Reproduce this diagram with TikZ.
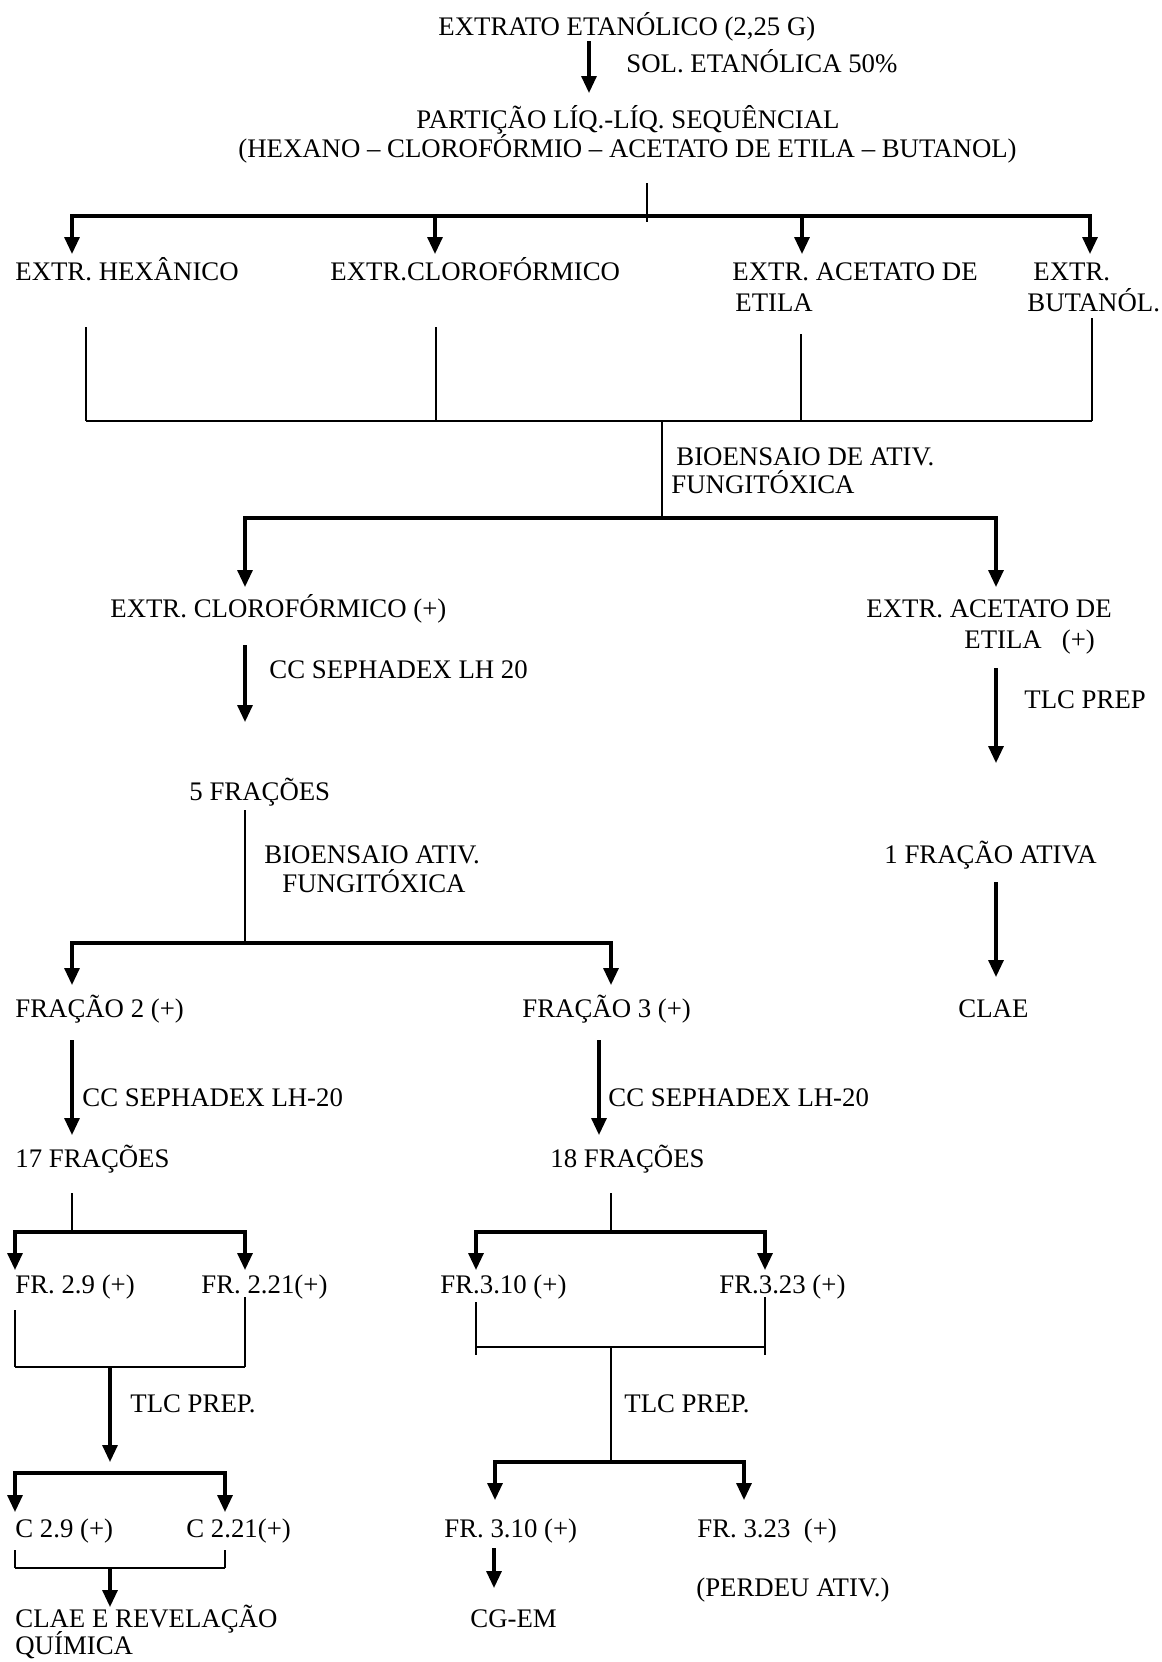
\documentclass[tikz,border=0pt]{standalone}
\usepackage{fontspec}
\setmainfont{Liberation Serif}
\usetikzlibrary{arrows.meta}

\begin{document}
\begin{tikzpicture}[x=0.5pt,y=-0.5pt,
    rot/.style={anchor=base west,inner sep=0pt,font=\fontsize{13.4}{16}\selectfont},
    seta/.style={line width=1.6pt,-{Triangle[length=8.5pt,width=7.5pt]}},
    seta2/.style={line width=1.6pt,{Triangle[length=8.5pt,width=7.5pt]}-{Triangle[length=8.5pt,width=7.5pt]}},
    barra/.style={line width=1.4pt},
    fio/.style={line width=0.6pt}]
\useasboundingbox (0,0) rectangle (1162,1662);

% textos
\node[rot] (extrato) at (438,35) {EXTRATO ETANÓLICO (2,25 G)};
\node[rot] (sol) at (626,72) {SOL. ETANÓLICA 50\%};
\node[rot] (particao) at (416,128) {PARTIÇÃO LÍQ.-LÍQ. SEQUÊNCIAL};
\node[rot] (solventes) at (238,157) {(HEXANO – CLOROFÓRMIO – ACETATO DE ETILA – BUTANOL)};
\node[rot] (hex) at (15,280) {EXTR. HEXÂNICO};
\node[rot] (clo) at (330,280) {EXTR.CLOROFÓRMICO};
\node[rot] (ace) at (732,280) {EXTR. ACETATO DE};
\node[rot] (aceb) at (735,311) {ETILA};
\node[rot] (but) at (1033,280) {EXTR.};
\node[rot] (butb) at (1027,311) {BUTANÓL.};
\node[rot] (bio) at (676,465) {BIOENSAIO DE ATIV.};
\node[rot] (biob) at (671,493) {FUNGITÓXICA};
\node[rot] (cloP) at (110,617) {EXTR. CLOROFÓRMICO (+)};
\node[rot] (aceP) at (866,617) {EXTR. ACETATO DE};
\node[rot] (acePb) at (964,648) {ETILA\ \ \ (+)};
\node[rot] (sep1) at (269,678) {CC SEPHADEX LH 20};
\node[rot] (tlc1) at (1024,708) {TLC PREP};
\node[rot] (cinco) at (189,800) {5 FRAÇÕES};
\node[rot] (bio2) at (264,863) {BIOENSAIO ATIV.};
\node[rot] (bio2b) at (282,892) {FUNGITÓXICA};
\node[rot] (ativa) at (884,863) {1 FRAÇÃO ATIVA};
\node[rot] (fr2) at (15,1017) {FRAÇÃO 2 (+)};
\node[rot] (fr3) at (522,1017) {FRAÇÃO 3 (+)};
\node[rot] (clae1) at (958,1017) {CLAE};
\node[rot] (sep2) at (82,1106) {CC SEPHADEX LH-20};
\node[rot] (sep3) at (608,1106) {CC SEPHADEX LH-20};
\node[rot] (dezessete) at (15,1167) {17 FRAÇÕES};
\node[rot] (dezoito) at (550,1167) {18 FRAÇÕES};
\node[rot] (f29) at (15,1293) {FR. 2.9 (+)};
\node[rot] (f221) at (201,1293) {FR. 2.21(+)};
\node[rot] (f310) at (440,1293) {FR.3.10 (+)};
\node[rot] (f323) at (719,1293) {FR.3.23 (+)};
\node[rot] (tlc2) at (130,1412) {TLC PREP.};
\node[rot] (tlc3) at (624,1412) {TLC PREP.};
\node[rot] (c29) at (15,1537) {C 2.9 (+)};
\node[rot] (c221) at (186,1537) {C 2.21(+)};
\node[rot] (g310) at (444,1537) {FR. 3.10 (+)};
\node[rot] (g323) at (697,1537) {FR. 3.23\ \ (+)};
\node[rot] (perdeu) at (696,1596) {(PERDEU ATIV.)};
\node[rot] (clae2) at (15,1627) {CLAE E REVELAÇÃO};
\node[rot] (clae2b) at (15,1654) {QUÍMICA};
\node[rot] (cgem) at (470,1627) {CG-EM};

% particao
\coordinate (p0) at (589,41);
\coordinate (p1) at (589,93);
\draw[seta] (p0) -- (p1);
\coordinate (q0) at (647,183);
\coordinate (q1) at (647,222);
\draw[fio] (q0) -- (q1);
\coordinate (h1) at (72,216);
\coordinate (h2) at (435,216);
\coordinate (h3) at (802,216);
\coordinate (h4) at (1090,216);
\draw[seta2] (h1 |- 0,254) -- (h1) -- (h4) -- (h4 |- 0,254);
\draw[seta] (h2) -- (h2 |- 0,254);
\draw[seta] (h3) -- (h3 |- 0,254);

% bioensaio 1
\coordinate (j1) at (86,421);
\coordinate (j2) at (436,421);
\coordinate (j3) at (801,421);
\coordinate (j4) at (1092,421);
\coordinate (j5) at (662,421);
\draw[fio] (j1 |- 0,327) -- (j1);
\draw[fio] (j2 |- 0,327) -- (j2);
\draw[fio] (j3 |- 0,334) -- (j3);
\draw[fio] (j4 |- 0,318) -- (j4);
\draw[barra] (j1) -- (j4);
\draw[fio] (j5) -- (j5 |- 0,518);
\coordinate (k1) at (245,518);
\coordinate (k2) at (996,518);
\draw[seta2] (k1 |- 0,587) -- (k1) -- (k2) -- (k2 |- 0,587);

% coluna direita
\draw[seta] (996,668) coordinate (r0) -- (996,763) coordinate (r1);
\draw[seta] (996,882) coordinate (r2) -- (996,977) coordinate (r3);

% cloroformico
\draw[seta] (245,645) coordinate (c0) -- (245,722) coordinate (c1);
\draw[fio] (245,810) coordinate (c2) -- (245,943) coordinate (c3);
\coordinate (m1) at (72,943);
\coordinate (m2) at (611,943);
\draw[seta2] (m1 |- 0,985) -- (m1) -- (m2) -- (m2 |- 0,985);
\draw[seta] (72,1040) coordinate (d0) -- (72,1135) coordinate (d1);
\draw[seta] (599,1040) coordinate (e0) -- (599,1135) coordinate (e1);

% fracao 2
\draw[fio] (72,1193) coordinate (d2) -- (72,1232) coordinate (d3);
\draw[seta2] (15,1270) -- (15,1232) -- (245,1232) -- (245,1270);
\draw[fio] (15,1310) -- (15,1367);
\draw[fio] (245,1297) -- (245,1367);
\draw[barra] (15,1367) -- (245,1367);
\draw[seta] (110,1367) coordinate (t0) -- (110,1462) coordinate (t1);
\draw[seta2] (15,1512) -- (15,1473) -- (225,1473) -- (225,1512);
\draw[fio] (15,1550) -- (15,1568);
\draw[fio] (225,1550) -- (225,1568);
\draw[barra] (15,1568) coordinate (u0) -- (225,1568);
\draw[seta] (110,1568) -- (110,1607);

% fracao 3
\draw[fio] (611,1193) coordinate (e2) -- (611,1232) coordinate (e3);
\draw[seta2] (476,1270) -- (476,1232) -- (765,1232) -- (765,1270);
\draw[fio] (476,1302) -- (476,1355);
\draw[fio] (765,1297) -- (765,1355);
\draw[barra] (476,1347) -- (765,1347);
\draw[fio] (611,1347) -- (611,1462);
\draw[seta2] (495,1500) -- (495,1462) -- (744,1462) -- (744,1500);
\draw[seta] (494,1548) -- (494,1588);

\end{tikzpicture}
\end{document}
